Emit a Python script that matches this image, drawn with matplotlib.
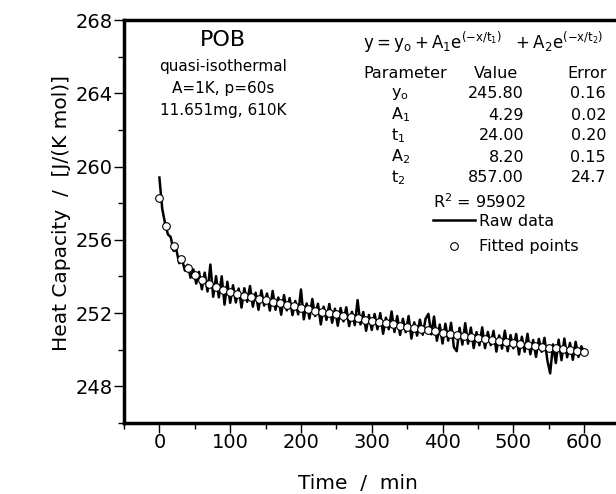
import numpy as np
import matplotlib
matplotlib.use("Agg")
import matplotlib.pyplot as plt

plt.rcParams['font.family'] = ['DejaVu Sans']
plt.rcParams['mathtext.fontset'] = 'dejavusans'

# raw Cp trace, sampled every 4 min
t_raw = np.arange(0, 601, 4)
cp_raw = [
    259.40, 257.70, 256.90, 256.30, 256.15, 255.40, 255.45, 254.72, 254.93, 254.32,
    254.64, 253.93, 254.38, 253.61, 254.25, 253.30, 254.21, 253.18, 254.65, 252.89,
    254.02, 252.86, 254.01, 252.46, 253.71, 252.56, 253.52, 252.58, 253.34, 252.30,
    253.36, 252.62, 253.48, 252.35, 253.11, 252.18, 253.24, 252.41, 253.07, 252.14,
    253.21, 252.18, 252.85, 251.91, 252.98, 252.15, 252.82, 251.89, 252.66, 251.93,
    253.29, 251.66, 252.53, 251.70, 252.77, 251.84, 252.51, 251.38, 252.35, 251.63,
    252.50, 251.47, 252.24, 251.31, 252.28, 251.55, 252.32, 251.29, 252.07, 251.34,
    252.71, 251.38, 252.06, 251.03, 251.90, 251.08, 251.95, 251.12, 252.00, 250.87,
    251.75, 251.12, 252.09, 250.97, 251.84, 250.81, 251.69, 250.96, 251.84, 250.61,
    251.49, 250.77, 251.64, 250.82, 251.69, 251.96, 250.84, 251.81, 250.49, 251.37,
    250.34, 251.42, 250.49, 251.47, 250.14, 249.92, 251.20, 250.28, 251.45, 250.33,
    251.21, 250.09, 250.96, 250.24, 251.22, 250.09, 250.97, 250.25, 251.03, 249.90,
    250.78, 250.06, 251.04, 249.92, 250.80, 250.08, 250.86, 249.74, 250.71, 249.89,
    250.87, 249.75, 250.53, 249.61, 250.59, 249.89, 250.65, 249.43, 248.71, 250.29,
    249.27, 250.55, 249.43, 250.61, 249.59, 250.37, 249.45, 250.43, 249.61, 250.19,
    249.87,
]

# fitted points every 10 min
t_fit = np.arange(0, 601, 10)
cp_fit = [
    258.29, 256.73, 255.68, 254.95, 254.44, 254.07, 253.80, 253.59, 253.42, 253.28,
    253.16, 253.06, 252.96, 252.86, 252.78, 252.69, 252.61, 252.53, 252.45, 252.37,
    252.29, 252.22, 252.14, 252.07, 252.00, 251.93, 251.85, 251.78, 251.71, 251.65,
    251.58, 251.51, 251.45, 251.38, 251.31, 251.25, 251.19, 251.13, 251.06, 251.00,
    250.94, 250.88, 250.82, 250.77, 250.71, 250.65, 250.59, 250.54, 250.48, 250.43,
    250.38, 250.32, 250.27, 250.22, 250.17, 250.12, 250.07, 250.02, 249.97, 249.92,
    249.87,
]

par_names = [r'$\mathrm{y_o}$', r'$\mathrm{A_1}$', r'$\mathrm{t_1}$',
             r'$\mathrm{A_2}$', r'$\mathrm{t_2}$']
par_values = ['245.80', '4.29', '24.00', '8.20', '857.00']
par_errors = ['0.16', '0.02', '0.20', '0.15', '24.7']
r2_text = r'$\mathrm{R^2}$ = 95902'

W, H = 616, 494
fig = plt.figure(figsize=(W / 100, H / 100), dpi=100)
ax = fig.add_axes([124 / W, 1 - 423 / H, (W - 124) / W, (423 - 20) / H])

ax.plot(t_raw, cp_raw, color='black', lw=1.8, label='Raw data', zorder=2)
ax.plot(t_fit, cp_fit, 'o', ms=5.5, mfc='white', mec='black', mew=0.8,
        label='Fitted points', zorder=3)

ax.set_xlim(-46.3, 645)
ax.set_ylim(246, 268)
ax.set_xticks(np.arange(0, 601, 100))
ax.set_xticks(np.arange(-50, 646, 50), minor=True)
ax.set_yticks(np.arange(248, 269, 4))
ax.set_yticks(np.arange(246, 269, 2), minor=True)
ax.spines['right'].set_visible(False)
for s in ['left', 'bottom', 'top']:
    ax.spines[s].set_linewidth(2.5)
ax.tick_params(which='major', direction='out', length=7, width=1, labelsize=14, pad=1)
ax.tick_params(axis='x', which='major', pad=0)
ax.tick_params(which='minor', direction='out', length=4, width=1)
ax.tick_params(top=False, right=False, which='both')

ax.set_xlabel('Time  /  min', fontsize=14.5)
ax.set_ylabel('Heat Capacity  /  [J/(K mol)]', fontsize=14.5)
ax.xaxis.set_label_coords(0.476, -0.127)
ax.yaxis.set_label_coords(-0.108, 0.52)


def fx(px):
    return px / W


def fy(py):
    return 1 - py / H


# sample info block
fig.text(fx(223), fy(40), 'POB', fontsize=16, ha='center', va='center')
fig.text(fx(223), fy(66), 'quasi-isothermal', fontsize=11, ha='center', va='center')
fig.text(fx(223), fy(89), 'A=1K, p=60s', fontsize=11, ha='center', va='center')
fig.text(fx(223), fy(110), '11.651mg, 610K', fontsize=11, ha='center', va='center')

# fit results block
fig.text(fx(363), fy(42),
         r'$\mathrm{y = y_o + A_1e^{(-x/t_1)}\ \ + A_2e^{(-x/t_2)}}$',
         fontsize=12, ha='left', va='center')
fig.text(fx(363), fy(73), 'Parameter', fontsize=11.5, ha='left', va='center')
fig.text(fx(496), fy(73), 'Value', fontsize=11.5, ha='center', va='center')
fig.text(fx(607), fy(73), 'Error', fontsize=11.5, ha='right', va='center')
for i, (n, v, e) in enumerate(zip(par_names, par_values, par_errors)):
    y = 94 + 21 * i
    fig.text(fx(391), fy(y), n, fontsize=11.5, ha='left', va='center')
    fig.text(fx(524), fy(y), v, fontsize=11.5, ha='right', va='center')
    fig.text(fx(606), fy(y), e, fontsize=11.5, ha='right', va='center')
fig.text(fx(433), fy(202), r2_text, fontsize=11.5, ha='left', va='center')

ax.legend(loc='upper left', bbox_to_anchor=(fx(433), fy(214)),
          bbox_transform=fig.transFigure, frameon=False, fontsize=11.5,
          borderpad=0, borderaxespad=0, handlelength=2.6, handletextpad=0.3,
          labelspacing=0.65)

fig.savefig('out.png', dpi=100)
